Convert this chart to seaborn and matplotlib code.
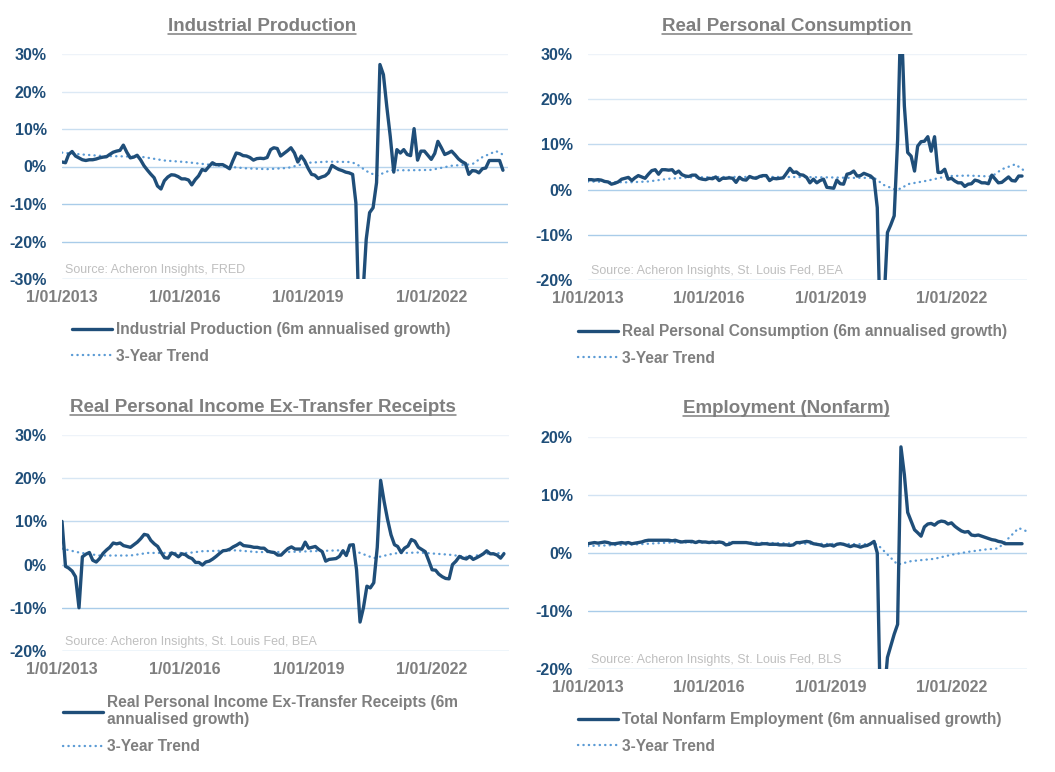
import numpy as np
import pandas as pd
import matplotlib
matplotlib.use("Agg")
import matplotlib.pyplot as plt
from matplotlib.lines import Line2D
from matplotlib.ticker import FuncFormatter, MultipleLocator
import matplotlib.colors as mcolors
import seaborn as sns

# ---------------- data ----------------
start_month = "2013-01-01"
n_months = 130

ip_growth = [
    1.2, 1.0, 3.2, 4.0, 2.8, 2.3, 1.8, 1.6, 1.8, 1.8,
    2.0, 2.3, 2.5, 2.6, 3.2, 3.8, 4.1, 4.3, 5.7, 3.8,
    2.3, 2.5, 3.0, 1.8, 0.2, -1.0, -2.0, -3.0, -5.2, -6.0,
    -3.8, -2.8, -2.2, -2.3, -2.7, -3.3, -3.3, -3.6, -4.9, -3.5,
    -2.5, -0.8, -1.1, 0.0, 1.0, 0.5, 0.5, 0.5, 0.0, -0.6,
    1.5, 3.6, 3.4, 2.9, 2.8, 2.4, 1.7, 2.1, 2.2, 2.1,
    2.4, 4.5, 5.0, 4.8, 2.8, 3.5, 4.2, 5.0, 3.6, 1.2,
    2.8, 1.5, -0.5, -2.1, -2.3, -3.2, -2.8, -2.5, -1.7, 0.3,
    -0.3, -0.8, -1.1, -1.5, -1.7, -2.1, -9.7, -45.0, -35.0, -19.4,
    -12.3, -11.0, -4.3, 27.2, 24.5, 16.0, 8.0, -1.5, 4.5, 3.6,
    4.5, 3.2, 2.9, 10.1, 1.7, 4.1, 4.1, 3.0, 1.9, 3.5,
    6.7, 5.0, 3.2, 3.6, 4.1, 3.1, 2.0, 1.3, 0.8, -2.1,
    -1.1, -1.2, -1.7, -0.6, -0.4, 1.6, 1.6, 1.6, 1.6, -1.0,
]
ip_trend_dates = ["2013-01", "2013-07", "2014-01", "2014-07", "2015-01", "2015-07",
                  "2016-01", "2016-07", "2017-01", "2017-07", "2018-01", "2018-07",
                  "2019-01", "2019-07", "2020-01", "2020-03", "2020-06", "2020-09",
                  "2021-01", "2021-07", "2022-01", "2022-07", "2023-01", "2023-04",
                  "2023-08", "2023-11"]
ip_trend = [3.7, 3.2, 2.8, 2.7, 2.5, 1.6, 1.2, 0.6, 0.0, -0.5, -0.7, -0.4,
            1.0, 1.3, 1.2, 0.8, -1.2, -2.5, -1.0, -1.0, -0.9, 0.2, 0.6, 2.5,
            4.1, 2.7]

pce_growth = [
    2.2, 2.2, 2.1, 2.2, 2.1, 1.8, 1.7, 1.2, 1.4, 1.7,
    2.3, 2.5, 2.7, 2.0, 2.6, 3.1, 2.8, 2.5, 3.4, 4.2,
    4.4, 3.4, 4.4, 4.4, 4.3, 4.4, 3.6, 4.1, 3.3, 3.0,
    2.9, 3.2, 3.2, 2.5, 2.3, 2.2, 2.5, 2.4, 2.8, 2.0,
    2.5, 2.5, 2.6, 2.5, 1.6, 2.7, 2.2, 2.1, 2.9, 2.6,
    2.5, 2.9, 3.1, 3.1, 2.0, 2.5, 2.4, 2.5, 2.6, 3.6,
    4.7, 3.8, 3.9, 3.3, 3.2, 2.7, 1.5, 2.3, 1.5, 2.0,
    2.3, 0.5, 0.4, 0.3, 2.1, 1.3, 1.2, 3.4, 3.6, 4.1,
    3.0, 3.1, 3.6, 3.3, 3.0, 2.3, -4.0, -35.0, -25.0, -9.5,
    -7.8, -5.8, 11.0, 40.0, 18.5, 8.2, 7.4, 4.1, 9.6, 10.6,
    10.7, 11.7, 8.5, 11.7, 3.8, 3.8, 4.5, 2.3, 2.5, 1.9,
    1.5, 1.5, 0.7, 1.2, 1.3, 2.1, 1.9, 1.5, 1.5, 1.3,
    3.2, 2.3, 1.5, 1.6, 2.2, 2.8, 2.0, 1.9, 3.0, 3.0,
]
pce_trend_dates = ["2013-01", "2014-01", "2014-07", "2015-01", "2015-07", "2016-07",
                   "2018-01", "2019-01", "2019-07", "2020-02", "2020-05", "2020-08",
                   "2020-10", "2020-12", "2021-06", "2021-12", "2022-06", "2023-01",
                   "2023-04", "2023-08", "2023-11"]
pce_trend = [1.8, 1.6, 1.8, 2.4, 2.7, 2.8, 2.8, 2.7, 2.6, 2.6, 1.0, 0.1,
             0.2, 1.2, 2.0, 3.0, 3.1, 2.9, 4.5, 5.6, 4.0]

inc_growth = [
    10.0, -0.4, -0.8, -1.5, -2.8, -10.0, 1.8, 2.4, 2.8, 1.0,
    0.6, 1.4, 2.6, 3.4, 4.0, 5.0, 4.8, 5.0, 4.4, 4.2,
    4.0, 4.6, 5.2, 6.0, 7.0, 6.8, 5.6, 4.8, 4.2, 2.8,
    1.6, 1.5, 2.7, 2.4, 1.8, 2.5, 2.3, 1.7, 1.4, 0.5,
    0.5, -0.1, 0.6, 0.8, 1.3, 1.9, 2.6, 3.2, 3.3, 3.6,
    4.1, 4.5, 5.0, 4.4, 4.3, 4.2, 4.0, 4.0, 3.8, 3.8,
    3.1, 2.9, 2.8, 2.2, 2.2, 3.0, 3.7, 4.1, 3.6, 3.6,
    3.6, 5.2, 3.8, 4.0, 4.2, 3.5, 3.0, 0.8, 1.2, 1.3,
    1.4, 1.9, 3.2, 2.1, 4.5, 4.6, -1.2, -13.3, -10.0, -5.0,
    -5.4, -4.2, 4.0, 19.5, 14.6, 10.5, 6.9, 4.6, 4.2, 2.8,
    3.8, 4.3, 5.8, 5.4, 4.0, 3.5, 3.0, 1.0, -1.2, -1.3,
    -2.2, -2.8, -3.2, -3.3, 0.0, 0.8, 1.9, 1.5, 1.3, 1.9,
    1.2, 1.6, 2.0, 2.5, 3.2, 2.5, 2.5, 2.2, 1.5, 2.5,
]
inc_trend_dates = ["2013-01", "2013-06", "2013-12", "2014-09", "2015-02", "2016-02",
                   "2016-06", "2017-04", "2017-10", "2018-06", "2019-10", "2020-03",
                   "2020-08", "2021-02", "2021-09", "2022-06", "2022-12", "2023-04",
                   "2023-10"]
inc_trend = [3.7, 2.8, 2.1, 2.1, 2.7, 2.7, 3.1, 3.3, 2.9, 2.9, 3.3, 3.0,
             1.5, 2.6, 2.8, 2.3, 1.7, 2.5, 2.7]

emp_growth = [
    1.6, 1.7, 1.8, 1.7, 1.8, 1.9, 1.8, 1.6, 1.6, 1.7,
    1.8, 1.7, 1.8, 1.6, 1.7, 1.8, 1.9, 2.1, 2.2, 2.2,
    2.2, 2.2, 2.2, 2.2, 2.2, 2.1, 2.2, 2.0, 1.9, 2.0,
    2.0, 2.0, 1.8, 2.0, 1.9, 1.9, 1.8, 1.9, 1.8, 1.9,
    1.8, 1.4, 1.5, 1.8, 1.8, 1.8, 1.8, 1.8, 1.7, 1.6,
    1.5, 1.5, 1.6, 1.6, 1.5, 1.5, 1.5, 1.4, 1.4, 1.4,
    1.3, 1.4, 1.8, 1.8, 1.9, 2.0, 1.9, 1.6, 1.5, 1.4,
    1.2, 1.3, 1.4, 1.2, 1.5, 1.6, 1.5, 1.3, 1.1, 1.3,
    1.2, 1.0, 1.2, 1.3, 1.6, 2.0, 0.0, -30.0, -25.0, -18.0,
    -16.0, -14.0, -12.3, 18.3, 13.5, 7.0, 5.5, 4.0, 3.5, 2.9,
    4.5, 5.0, 5.1, 4.8, 5.3, 5.5, 5.4, 5.0, 5.2, 4.6,
    4.2, 3.8, 3.6, 3.7, 3.1, 3.0, 3.1, 2.9, 2.7, 2.5,
    2.3, 2.2, 2.0, 1.9, 1.6, 1.6, 1.6, 1.6, 1.6, 1.6,
]
emp_trend_dates = ["2013-01", "2014-04", "2015-01", "2017-01", "2018-06", "2020-03",
                   "2020-09", "2021-01", "2021-08", "2022-01", "2022-06", "2022-11",
                   "2023-03", "2023-09", "2023-12"]
emp_trend = [1.2, 1.5, 1.8, 1.8, 1.6, 1.5, -2.0, -1.4, -1.0, -0.3, 0.2, 0.6,
             0.8, 4.3, 3.6]

titles = ["Industrial Production", "Real Personal Consumption",
          "Real Personal Income Ex-Transfer Receipts", "Employment (Nonfarm)"]
series_labels = ["Industrial Production (6m annualised growth)",
                 "Real Personal Consumption (6m annualised growth)",
                 "Real Personal Income Ex-Transfer Receipts (6m\nannualised growth)",
                 "Total Nonfarm Employment (6m annualised growth)"]
trend_label = "3-Year Trend"
sources = ["Source: Acheron Insights, FRED",
           "Source: Acheron Insights, St. Louis Fed, BEA",
           "Source: Acheron Insights, St. Louis Fed, BEA",
           "Source: Acheron Insights, St. Louis Fed, BLS"]
y_limits = [(-30, 30), (-20, 30), (-20, 30), (-20, 20)]
x_tick_dates = ["2013-01-01", "2016-01-01", "2019-01-01", "2022-01-01"]

# ---------------- style ----------------
sns.set_style("white")
plt.rcParams["font.family"] = ["Liberation Sans", "DejaVu Sans"]

NAVY = "#1f4e79"
LIGHTBLUE = "#5b9bd5"
GREY = "#7f7f7f"
SRC = "#bfbfbf"

W, H = 1055, 772
fig = plt.figure(figsize=(W / 100, H / 100), dpi=100)

# pixel layout: (left, top, right, bottom) of plot area
rects = [(62, 54, 508, 279), (588, 54, 1027, 280),
         (62, 435, 509, 651), (588, 437, 1027, 669)]
title_pos = [(262, 31), (787, 31), (263, 412), (786, 413)]
legend_pos = [(72, 322), (578, 324), (63, 695), (578, 712)]

months = pd.date_range(start_month, periods=n_months, freq="MS")
all_growth = [ip_growth, pce_growth, inc_growth, emp_growth]
all_trend = [(ip_trend_dates, ip_trend), (pce_trend_dates, pce_trend),
             (inc_trend_dates, inc_trend), (emp_trend_dates, emp_trend)]

grid_top = np.array(mcolors.to_rgb("#eef3f9"))
grid_bot = np.array(mcolors.to_rgb("#a9cce9"))

for i in range(4):
    l, t, r, b = rects[i]
    ax = fig.add_axes([l / W, 1 - b / H, (r - l) / W, (b - t) / H])
    df = pd.DataFrame({"date": months, "value": all_growth[i]})
    tdates, tvals = all_trend[i]
    tdf = pd.DataFrame({"date": pd.to_datetime(tdates), "value": tvals})

    sns.lineplot(data=tdf, x="date", y="value", ax=ax, color=LIGHTBLUE,
                 linewidth=1.7, linestyle=(0, (0.1, 2.2)), label=trend_label,
                 zorder=2)
    ax.lines[-1].set_dash_capstyle("round")
    sns.lineplot(data=df, x="date", y="value", ax=ax, color=NAVY,
                 linewidth=2.4, label=series_labels[i], zorder=3)

    lo, hi = y_limits[i]
    ax.set_ylim(lo, hi)
    ax.set_xlim(pd.Timestamp("2013-01-01"), pd.Timestamp("2023-11-15"))
    ax.yaxis.set_major_locator(MultipleLocator(10))
    ax.yaxis.set_major_formatter(FuncFormatter(lambda v, p: f"{v:.0f}%"))
    ax.set_xticks(pd.to_datetime(x_tick_dates))
    ax.set_xticklabels([f"{d.month}/{d.day:02d}/{d.year}" for d in pd.to_datetime(x_tick_dates)])
    ax.set_xlabel("")
    ax.set_ylabel("")
    for s in ax.spines.values():
        s.set_visible(False)
    ax.tick_params(axis="y", length=0, pad=11, labelsize=11.5, labelcolor=NAVY)
    ax.tick_params(axis="x", length=0, pad=8, labelsize=11.5, labelcolor=GREY)
    for lab in ax.get_yticklabels() + ax.get_xticklabels():
        lab.set_fontweight("bold")

    # horizontal gridlines, paler toward the top
    ticks = np.arange(lo, hi + 0.1, 10)
    for tv in ticks:
        f = (hi - tv) / (hi - lo)
        c = grid_top + (grid_bot - grid_top) * min(1.0, f * 1.6)
        ax.axhline(tv, color=c, linewidth=1.0, zorder=1)

    ax.text(0.006, 0.012, sources[i], transform=ax.transAxes, color=SRC,
            fontsize=9, ha="left", va="bottom")

    handles, labels = ax.get_legend_handles_labels()
    order = [1, 0]
    lx, ly = legend_pos[i]
    leg = ax.legend([handles[k] for k in order], [labels[k] for k in order],
                    loc="upper left", bbox_to_anchor=(lx / W, 1 - ly / H),
                    bbox_transform=fig.transFigure, frameon=False,
                    borderpad=0, borderaxespad=0, handlelength=2.6,
                    handletextpad=0.25, labelspacing=0.75,
                    prop={"size": 11.2, "weight": "bold"}, labelcolor=GREY)

    tx, ty = title_pos[i]
    fig.text(tx / W, 1 - ty / H, titles[i], ha="center", va="baseline",
             fontsize=13.5, fontweight="bold", color=GREY)

# underline titles
fig.canvas.draw()
renderer = fig.canvas.get_renderer()
for txt in list(fig.texts):
    bb = txt.get_window_extent(renderer)
    tx, ty = txt.get_position()
    y_line = ty - 2.5 / H
    fig.add_artist(Line2D([bb.x0 / W, bb.x1 / W], [y_line, y_line],
                          transform=fig.transFigure, color=GREY, linewidth=1.1))

fig.savefig("out.png", dpi=100, facecolor="white")
